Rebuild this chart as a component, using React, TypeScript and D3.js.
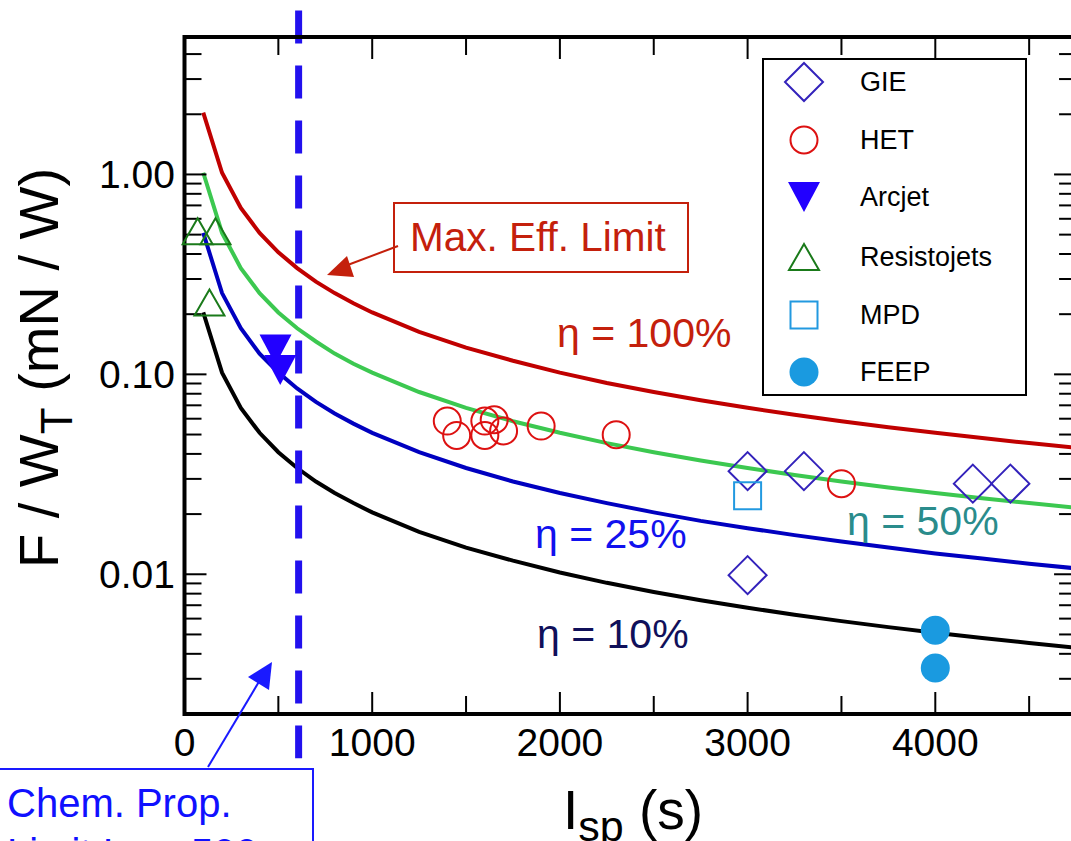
import React from 'react';
import * as d3 from 'd3';

// specific impulse samples (s) used for the efficiency curves
const curveIsp = [100, 200, 300, 400, 500, 600, 700, 800, 900, 1000, 1250, 1500, 1750, 2000, 2250, 2500, 2750, 3000, 3250, 3500, 3750, 4000, 4250, 4500, 4750, 5000];

// F / W_T (mN/W)
const eta100 = [2.04, 1.02, 0.680, 0.510, 0.408, 0.340, 0.291, 0.255, 0.227, 0.204, 0.163, 0.136, 0.117, 0.102, 0.0906, 0.0816, 0.0742, 0.0680, 0.0628, 0.0583, 0.0544, 0.0510, 0.0480, 0.0453, 0.0429, 0.0408];
const eta50 = [1.02, 0.510, 0.340, 0.255, 0.204, 0.170, 0.146, 0.127, 0.113, 0.102, 0.0816, 0.0680, 0.0583, 0.0510, 0.0453, 0.0408, 0.0371, 0.0340, 0.0314, 0.0291, 0.0272, 0.0255, 0.0240, 0.0227, 0.0215, 0.0204];
const eta25 = [0.510, 0.255, 0.170, 0.127, 0.102, 0.0850, 0.0728, 0.0637, 0.0567, 0.0510, 0.0408, 0.0340, 0.0291, 0.0255, 0.0227, 0.0204, 0.0185, 0.0170, 0.0157, 0.0146, 0.0136, 0.0127, 0.0120, 0.0113, 0.0107, 0.0102];
const eta10 = [0.204, 0.102, 0.0680, 0.0510, 0.0408, 0.0340, 0.0291, 0.0255, 0.0227, 0.0204, 0.0163, 0.0136, 0.0117, 0.0102, 0.00906, 0.00816, 0.00742, 0.00680, 0.00628, 0.00583, 0.00544, 0.00510, 0.00480, 0.00453, 0.00429, 0.00408];

// thrusters: [Isp, F/W]
const gie = [[3000, 0.0328], [3300, 0.0328], [4200, 0.0284], [4400, 0.0284], [3000, 0.0099]];
const het = [[1400, 0.0584], [1450, 0.0495], [1600, 0.0584], [1650, 0.0593], [1600, 0.0495], [1700, 0.0521], [1900, 0.0551], [2300, 0.0499], [3500, 0.0284]];
const arcjet = [[485, 0.133], [510, 0.105]];
const resisto = [[70, 0.52], [165, 0.52], [133, 0.229]];
const mpd = [[3000, 0.0247]];
const feep = [[4000, 0.00525], [4000, 0.0034]];

const chemLimit = 608;

const xTicks = [0, 500, 1000, 1500, 2000, 2500, 3000, 3500, 4000, 4500];
const xLabels = [0, 1000, 2000, 3000, 4000];
const yLabels = [0.01, 0.1, 1];

const legendItems = ['GIE', 'HET', 'Arcjet', 'Resistojets', 'MPD', 'FEEP'];

const font = '"Liberation Sans", Arial, Helvetica, sans-serif';

const x = d3.scaleLinear().domain([0, 4750]).range([184.5, 184.5 + 0.1877 * 4750]);
const y = d3.scaleLog().domain([0.002, 4.87]).range([714, 37]);

const yTicks: number[] = [];
[-3, -2, -1, 0].forEach(n => {
    for (let k = 1; k <= 9; k++) {
        const v = k * Math.pow(10, n);
        if (v >= 0.002 && v <= 4.87) yTicks.push(v);
    }
});

const isMajorY = (v: number) => Math.abs(Math.log10(v) - Math.round(Math.log10(v))) < 1e-6;

const line = d3.line<number>()
    .x((d, i) => x(curveIsp[i]))
    .y(d => y(d));

const Marker = ({ kind, cx, cy }: { kind: string, cx: number, cy: number }) => {
    if (kind === 'GIE') {
        const s = 19;
        return <path d={`M${cx},${cy - s}L${cx + s},${cy}L${cx},${cy + s}L${cx - s},${cy}Z`} fill="none" stroke="#3322bb" strokeWidth={2} />;
    }
    if (kind === 'HET') {
        return <circle cx={cx} cy={cy} r={13.5} fill="none" stroke="#dd1111" strokeWidth={2} />;
    }
    if (kind === 'Arcjet') {
        return <path d={`M${cx - 16},${cy - 15}L${cx + 16},${cy - 15}L${cx},${cy + 15}Z`} fill="#2200ff" />;
    }
    if (kind === 'Resistojets') {
        return <path d={`M${cx},${cy - 13}L${cx + 15},${cy + 13}L${cx - 15},${cy + 13}Z`} fill="none" stroke="#1a7a1a" strokeWidth={2} />;
    }
    if (kind === 'MPD') {
        return <rect x={cx - 13.5} y={cy - 13.5} width={27} height={27} fill="none" stroke="#2299e0" strokeWidth={2} />;
    }
    return <circle cx={cx} cy={cy} r={14.5} fill="#1a9ae0" />;
};

const App = () => {
    const x0 = x.range()[0], x1 = x.range()[1];
    const yb = y.range()[0], yt = y.range()[1];

    const series: [string, number[][]][] = [
        ['Resistojets', resisto], ['HET', het], ['GIE', gie], ['MPD', mpd], ['Arcjet', arcjet], ['FEEP', feep]
    ];

    return (
        <svg width={1071} height={841} style={{ position: 'absolute', left: 0, top: 0, background: '#fff' }} fontFamily={font}>
            {/* curves */}
            <path d={line(eta100) || ''} fill="none" stroke="#c00000" strokeWidth={4} />
            <path d={line(eta50) || ''} fill="none" stroke="#3cc850" strokeWidth={4} />
            <path d={line(eta25) || ''} fill="none" stroke="#0000c0" strokeWidth={4} />
            <path d={line(eta10) || ''} fill="none" stroke="#000" strokeWidth={4} />

            {/* chemical propulsion limit */}
            <line x1={x(chemLimit)} x2={x(chemLimit)} y1={y(6.6)} y2={y(0.0012)} stroke="#2211ee" strokeWidth={7} strokeDasharray="33 22" />

            {/* ticks */}
            {xTicks.map(t => {
                const len = t % 1000 === 0 ? 22 : 18;
                return (
                    <g key={'xt' + t} stroke="#000" strokeWidth={2}>
                        <line x1={x(t)} x2={x(t)} y1={yb} y2={yb - len} />
                        <line x1={x(t)} x2={x(t)} y1={yt} y2={yt + len} />
                    </g>
                );
            })}
            {yTicks.map(t => {
                const len = isMajorY(t) ? 22 : 17;
                return (
                    <g key={'yt' + t} stroke="#000" strokeWidth={2}>
                        <line x1={x0} x2={x0 + len} y1={y(t)} y2={y(t)} />
                        <line x1={x1} x2={x1 - len} y1={y(t)} y2={y(t)} />
                    </g>
                );
            })}
            <rect x={x0} y={yt} width={x1 - x0} height={yb - yt} fill="none" stroke="#000" strokeWidth={4} />

            {/* tick labels */}
            {xLabels.map(t => (
                <text key={'xl' + t} x={x(t)} y={756} fontSize={39} textAnchor="middle">{t}</text>
            ))}
            {yLabels.map(t => (
                <text key={'yl' + t} x={175} y={y(t)} fontSize={39} textAnchor="end" dominantBaseline="central">{d3.format('.2f')(t)}</text>
            ))}

            {/* axis titles */}
            <text transform="translate(58,368) rotate(-90)" fontSize={56} textAnchor="middle">
                F / W<tspan fontSize={44} dy={14}>T</tspan><tspan dy={-14}> (mN / W)</tspan>
            </text>
            <text x={563} y={829} fontSize={55}>
                I<tspan fontSize={43} dy={12}>sp</tspan><tspan dy={-12}> (s)</tspan>
            </text>

            {/* markers */}
            {series.map(([kind, pts]) => pts.map((p, i) => (
                <Marker key={kind + i} kind={kind} cx={x(p[0])} cy={y(p[1])} />
            )))}

            {/* curve labels */}
            <text x={557} y={347} fontSize={41} fill="#c4200c">η = 100%</text>
            <text x={847} y={535} fontSize={41} fill="#2a8c8c">η = 50%</text>
            <text x={535} y={548} fontSize={41} fill="#1111ee">η = 25%</text>
            <text x={537} y={648} fontSize={41} fill="#10105a">η = 10%</text>

            {/* max efficiency annotation */}
            <rect x={394} y={203} width={294} height={69} fill="#fff" stroke="#c4200c" strokeWidth={2} />
            <text x={410} y={251} fontSize={40.5} fill="#c4200c">Max. Eff. Limit</text>
            <line x1={398} y1={246} x2={345} y2={266} stroke="#c4200c" strokeWidth={2} />
            <path d="M327,275L347,256L354,277Z" fill="#c4200c" />

            {/* chem limit annotation */}
            <rect x={-4} y={769} width={317} height={120} fill="#fff" stroke="#1a1aff" strokeWidth={2} />
            <text x={7} y={817} fontSize={40} fill="#1010ff">Chem. Prop.</text>
            <text x={7} y={867} fontSize={40} fill="#1010ff">
                Limit I<tspan fontSize={30} dy={8}>sp</tspan><tspan dy={-8}> ~ 500</tspan>
            </text>
            <line x1={208} y1={767} x2={260} y2={680} stroke="#1a1aff" strokeWidth={2} />
            <path d="M272,662L248,677L269,690Z" fill="#1a1aff" />

            {/* legend */}
            <rect x={763} y={59} width={263} height={336} fill="#fff" stroke="#000" strokeWidth={2} />
            {legendItems.map((name, i) => {
                const ly = [82, 140, 197, 257, 315, 372][i];
                return (
                    <g key={name}>
                        <Marker kind={name} cx={804} cy={ly} />
                        <text x={860} y={ly} fontSize={27} dominantBaseline="central">{name}</text>
                    </g>
                );
            })}
        </svg>
    );
};

export default App;
